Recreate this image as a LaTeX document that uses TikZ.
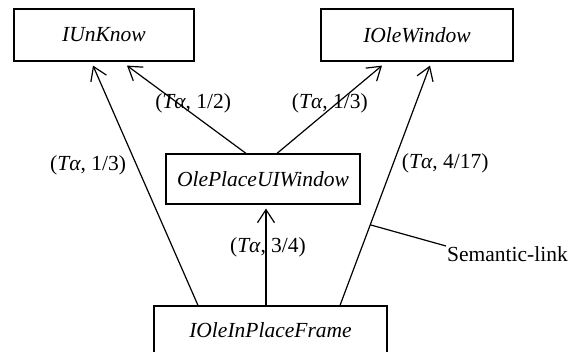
\documentclass[tikz,border=0pt]{standalone}
\usepackage{fontspec}
\setmainfont{Liberation Serif}
\usetikzlibrary{arrows.meta}
\tikzset{
    ifacebox/.style={draw, line width=1.2pt, font=\fontsize{21.5}{24}\selectfont\itshape, inner sep=0pt},
    linkarrow/.style={-{Straight Barb[length=13pt, width=17pt, line width=1.2pt]}, line width=1.2pt},
    linklabel/.style={font=\fontsize{21.5}{24}\selectfont, inner sep=1pt}
}

\begin{document}
\begin{tikzpicture}[x=1pt, y=-1pt]
        \useasboundingbox (0,0) rectangle (581,352);
        \node[ifacebox, minimum width=180pt, minimum height=52pt] (unknow) at (104,35) {IUnKnow};
        \node[ifacebox, minimum width=192pt, minimum height=52pt] (olewin) at (417,35) {IOleWindow};
        \node[ifacebox, minimum width=194pt, minimum height=50pt] (uiwin) at (263,179) {OlePlaceUIWindow};
        \node[ifacebox, minimum width=233pt, minimum height=48pt] (frame) at (270.5,330) {IOleInPlaceFrame};
        \draw[linkarrow] ([xshift=-72.5pt]frame.north) -- node[linklabel, pos=.585, left=9pt]{(\textit{Tα}, 1/3)} ([xshift=-11pt, yshift=-4pt]unknow.south);
        \draw[linkarrow] ([xshift=-17pt]uiwin.north) -- node[linklabel, pos=.57, xshift=15pt]{(\textit{Tα}, 1/2)} ([xshift=23pt, yshift=-4pt]unknow.south);
        \draw[linkarrow] ([xshift=14pt]uiwin.north) -- node[linklabel, pos=.57, xshift=-7pt]{(\textit{Tα}, 1/3)} ([xshift=-35pt, yshift=-4pt]olewin.south);
        \draw[linkarrow] ([xshift=69.5pt]frame.north) -- coordinate[pos=.336] (semlink) node[linklabel, pos=.593, right=7pt]{(\textit{Tα}, 4/17)} ([xshift=13pt, yshift=-4pt]olewin.south);
        \draw[linkarrow] ([xshift=-4.5pt]frame.north) -- node[linklabel, pos=.6, xshift=2pt]{(\textit{Tα}, 3/4)} ([xshift=3pt, yshift=-4pt]uiwin.south);
        % annotation
        \node[linklabel, anchor=west] (semtext) at (446,254) {Semantic-link};
        \draw[line width=1.2pt] (semlink) -- ([yshift=8pt]semtext.west);
    \end{tikzpicture}
\end{document}
